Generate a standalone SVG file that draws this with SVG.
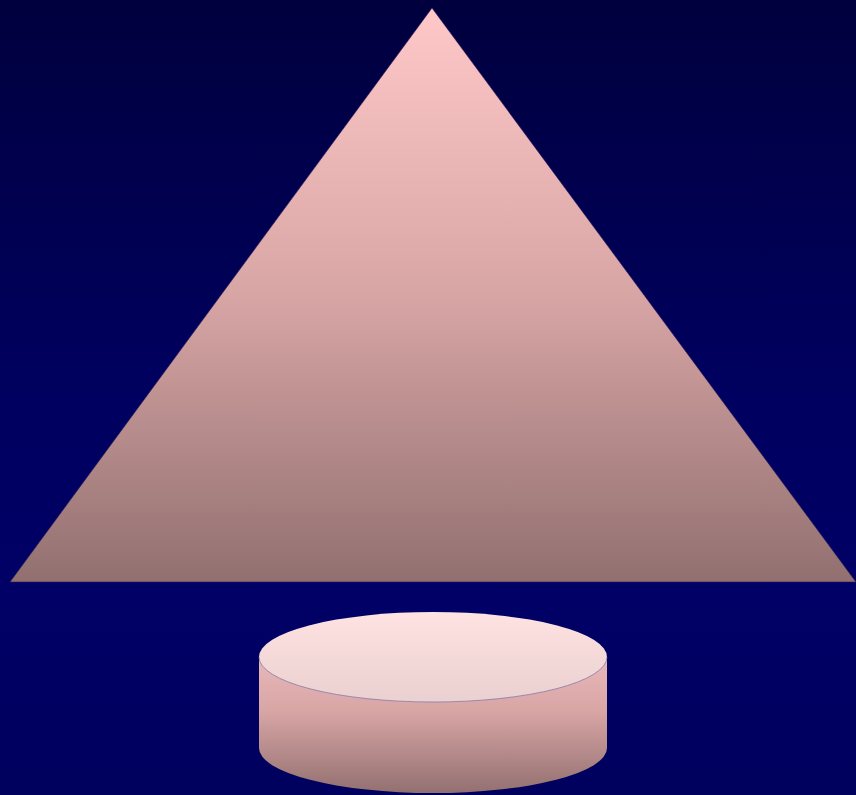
<svg xmlns="http://www.w3.org/2000/svg" width="856" height="795" viewBox="0 0 856 795">
  <defs>
    <linearGradient id="bg" x1="0" y1="0" x2="0" y2="1">
      <stop offset="0" stop-color="#00003e"/>
      <stop offset="0.5" stop-color="#000060"/>
      <stop offset="0.75" stop-color="#000066"/>
      <stop offset="1" stop-color="#00005e"/>
    </linearGradient>
    <linearGradient id="tri" gradientUnits="userSpaceOnUse" x1="0" y1="8" x2="0" y2="582">
      <stop offset="0" stop-color="#ffc8c8"/>
      <stop offset="0.5" stop-color="#d8a5a5"/>
      <stop offset="1" stop-color="#927070"/>
    </linearGradient>
    <linearGradient id="side" gradientUnits="userSpaceOnUse" x1="0" y1="657" x2="0" y2="793">
      <stop offset="0" stop-color="#e8b8b8"/>
      <stop offset="0.4" stop-color="#d8a5a5"/>
      <stop offset="1" stop-color="#937070"/>
    </linearGradient>
    <linearGradient id="top" gradientUnits="userSpaceOnUse" x1="0" y1="612" x2="0" y2="703">
      <stop offset="0" stop-color="#ffe2e2"/>
      <stop offset="1" stop-color="#ead0d0"/>
    </linearGradient>
  </defs>
  <rect width="856" height="795" fill="url(#bg)"/>
  <g id="pyramid">
    <polygon points="432,8 856,582 10,582" fill="url(#tri)" stroke="#2a1a5a" stroke-width="0.6"/>
  </g>
  <g id="cylinder">
    <path d="M259,657 L259,748 A174,45 0 0 0 607,748 L607,657 Z" fill="url(#side)"/>
    <ellipse cx="433" cy="657" rx="174" ry="45" fill="url(#top)"/>
    <path d="M259,657 A174,45 0 0 0 607,657" fill="none" stroke="#7a70a8" stroke-width="0.7"/>
  </g>
  <g id="connectors"/>
</svg>
